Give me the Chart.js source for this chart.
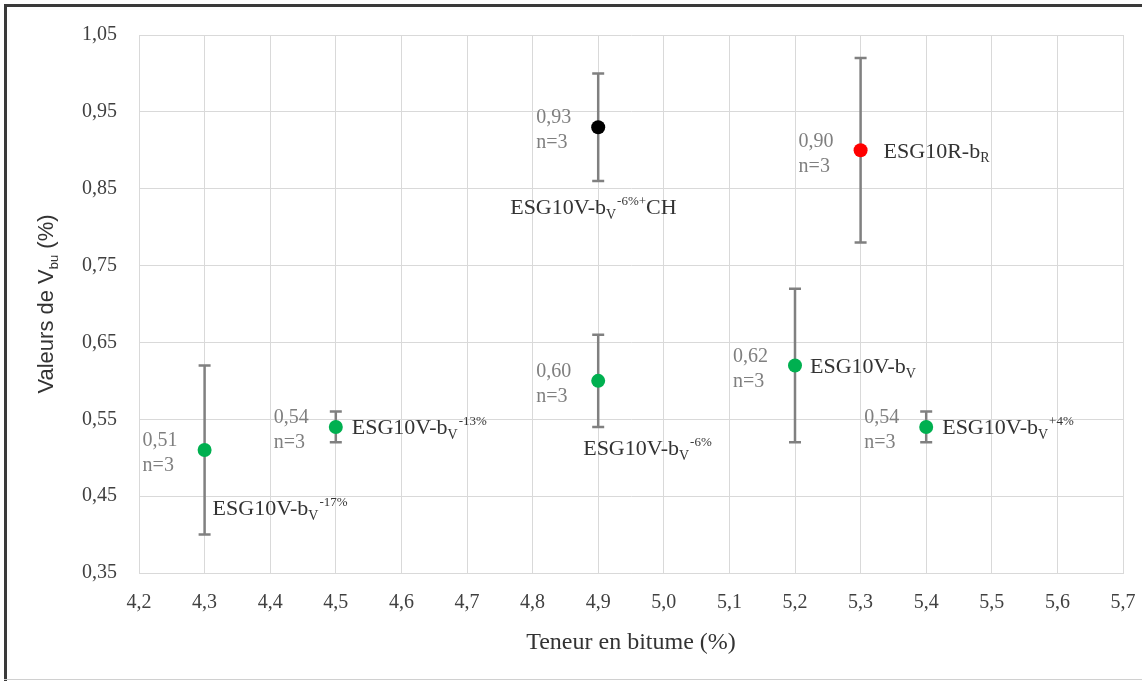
<!DOCTYPE html>
<html lang="fr">
<head>
<meta charset="utf-8">
<title>Vbu en fonction de la teneur en bitume</title>
<script src="https://cdn.jsdelivr.net/npm/chart.js@4/dist/chart.umd.min.js"></script>
<style>
  html, body { margin: 0; padding: 0; background: #fff; }
  #wrap { position: relative; width: 1142px; height: 681px; }
</style>
</head>
<body>
<div id="wrap"><canvas id="vbuChart" width="1142" height="681"></canvas></div>
<script>
// teneur en bitume (%) et Vbu moyen (%) de chaque mélange
const teneur = [4.3, 4.5, 4.9, 4.9, 5.2, 5.3, 5.4]
const vbu = [0.51, 0.54, 0.60, 0.93, 0.62, 0.90, 0.54]
// demi-amplitude des barres d'erreur
const ecart = [0.11, 0.02, 0.06, 0.07, 0.10, 0.12, 0.02]
const essais = [3, 3, 3, 3, 3, 3, 3]
// nom du mélange : base, indice, exposant, suite
const melanges = [
  ['ESG10V-b', 'V', '-17%', ''],
  ['ESG10V-b', 'V', '-13%', ''],
  ['ESG10V-b', 'V', '-6%', ''],
  ['ESG10V-b', 'V', '-6%+', 'CH'],
  ['ESG10V-b', 'V', '', ''],
  ['ESG10R-b', 'R', '', ''],
  ['ESG10V-b', 'V', '+4%', '']
]
const xTicks = [4.2, 5.7, 0.1]
const yTicks = [0.35, 1.05, 0.1]

const VERT = '#00b050'
const couleurs = [VERT, VERT, VERT, '#000000', VERT, '#ff0000', VERT]
// décalage des étiquettes de nom par rapport au point [dx, dy]
const posNoms = [[8, 58], [16, 0], [-15, 67], [-88, 80], [15, 0], [23, 0], [16, 0]]

const SERIF = "'Liberation Serif', 'Times New Roman', serif"
const SANS = "'Liberation Sans', Arial, sans-serif"
const virgule = (v, d) => v.toFixed(d).replace('.', ',')

// fond blanc + cadre de la figure
const cadre = {
  id: 'cadre',
  beforeDraw (chart) {
    const { ctx, width, height } = chart
    ctx.save()
    ctx.fillStyle = '#fff'
    ctx.fillRect(0, 0, width, height)
    ctx.fillStyle = '#3a3a3a'
    ctx.fillRect(4, 4, width - 4, 3)
    ctx.fillRect(4, 4, 3, height - 4)
    ctx.fillStyle = '#d0d0d0'
    ctx.fillRect(4, height - 2, width - 4, 1)
    ctx.restore()
  }
}

// barres d'erreur, sous les points
const barresErreur = {
  id: 'barresErreur',
  beforeDatasetsDraw (chart) {
    const { ctx, scales: { x, y } } = chart
    ctx.save()
    ctx.strokeStyle = '#808080'
    ctx.lineWidth = 2.5
    teneur.forEach((t, i) => {
      const px = x.getPixelForValue(t)
      const hi = y.getPixelForValue(vbu[i] + ecart[i])
      const lo = y.getPixelForValue(vbu[i] - ecart[i])
      ctx.beginPath()
      ctx.moveTo(px, hi); ctx.lineTo(px, lo)
      ctx.moveTo(px - 6, hi); ctx.lineTo(px + 6, hi)
      ctx.moveTo(px - 6, lo); ctx.lineTo(px + 6, lo)
      ctx.stroke()
    })
    ctx.restore()
  }
}

// texte avec indice / exposant, aligné à gauche, centré verticalement sur cy
function texteIndice (ctx, x, cy, parts, size, family) {
  const [base, sub, sup, suite] = parts
  const bl = cy + size * 0.33
  ctx.textBaseline = 'alphabetic'
  ctx.textAlign = 'left'
  ctx.font = size + 'px ' + family
  ctx.fillText(base, x, bl)
  x += ctx.measureText(base).width
  if (sub) {
    ctx.font = Math.round(size * 0.62) + 'px ' + family
    ctx.fillText(sub, x, bl + size * 0.22)
    x += ctx.measureText(sub).width
  }
  if (sup) {
    ctx.font = Math.round(size * 0.58) + 'px ' + family
    ctx.fillText(sup, x + 1, bl - size * 0.42)
    x += ctx.measureText(sup).width + 1
  }
  if (suite) {
    ctx.font = size + 'px ' + family
    ctx.fillText(suite, x, bl)
  }
}

// étiquettes de valeur, noms des mélanges, titres des axes
const etiquettes = {
  id: 'etiquettes',
  afterDatasetsDraw (chart) {
    const { ctx, chartArea } = chart
    const pts = chart.getDatasetMeta(0).data
    ctx.save()
    pts.forEach((p, i) => {
      ctx.fillStyle = '#7f7f7f'
      ctx.font = '20px ' + SERIF
      ctx.textAlign = 'left'
      ctx.textBaseline = 'middle'
      ctx.fillText(virgule(vbu[i], 2), p.x - 62, p.y - 9)
      ctx.fillText('n=' + essais[i], p.x - 62, p.y + 16)
      ctx.fillStyle = '#333'
      texteIndice(ctx, p.x + posNoms[i][0], p.y + posNoms[i][1], melanges[i], 22, SERIF)
    })

    // titre de l'axe X
    ctx.fillStyle = '#333'
    ctx.font = '24px ' + SERIF
    ctx.textAlign = 'center'
    ctx.textBaseline = 'middle'
    ctx.fillText('Teneur en bitume (%)', (chartArea.left + chartArea.right) / 2, 643)

    // titre de l'axe Y, tourné
    ctx.translate(45, (chartArea.top + chartArea.bottom) / 2)
    ctx.rotate(-Math.PI / 2)
    const morceaux = [['Valeurs de V', 22, 0], ['bu', 13, 5], [' (%)', 22, 0]]
    let total = 0
    morceaux.forEach(([t, s]) => { ctx.font = s + 'px ' + SANS; total += ctx.measureText(t).width })
    let cx = -total / 2
    ctx.textAlign = 'left'
    ctx.textBaseline = 'alphabetic'
    morceaux.forEach(([t, s, dy]) => {
      ctx.font = s + 'px ' + SANS
      ctx.fillText(t, cx, 8 + dy)
      cx += ctx.measureText(t).width
    })
    ctx.restore()
  }
}

const grille = {
  color: '#d9d9d9',
  lineWidth: 1,
  drawTicks: false
}

// eslint-disable-next-line no-unused-vars
const vbuChart = new Chart(document.getElementById('vbuChart'), {
  type: 'scatter',
  data: {
    datasets: [{
      label: 'Vbu',
      data: teneur.map((t, i) => ({ x: t, y: vbu[i] })),
      pointRadius: 7,
      pointHoverRadius: 7,
      pointBackgroundColor: couleurs,
      pointBorderColor: couleurs,
      pointBorderWidth: 0,
      showLine: false
    }]
  },
  options: {
    responsive: false,
    animation: false,
    events: [],
    layout: { padding: { top: 35, right: 0, left: 0, bottom: 0 } },
    plugins: {
      legend: { display: false },
      tooltip: { enabled: false }
    },
    scales: {
      x: {
        type: 'linear',
        min: xTicks[0],
        max: xTicks[1],
        afterFit: s => {
          s.height = 108
          s.paddingLeft = 0
          s.paddingRight = 19
        },
        ticks: {
          stepSize: xTicks[2],
          padding: 18,
          color: '#404040',
          font: { family: SERIF, size: 20 },
          callback: v => virgule(v, 1)
        },
        grid: grille,
        border: { display: true, color: '#d9d9d9' }
      },
      y: {
        type: 'linear',
        min: yTicks[0],
        max: yTicks[1],
        afterFit: s => { s.width = 139 },
        ticks: {
          stepSize: yTicks[2],
          padding: 22,
          color: '#404040',
          font: { family: SERIF, size: 20 },
          callback: v => virgule(v, 2)
        },
        grid: grille,
        border: { display: true, color: '#d9d9d9' }
      }
    }
  },
  plugins: [cadre, barresErreur, etiquettes]
})
</script>
</body>
</html>
